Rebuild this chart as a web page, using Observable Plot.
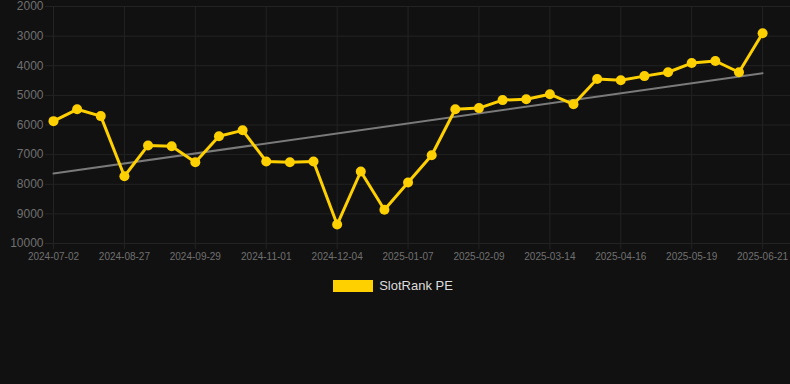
<!DOCTYPE html>
<html><head><meta charset="utf-8">
<script src="https://cdn.jsdelivr.net/npm/d3@7"></script>
<script src="https://cdn.jsdelivr.net/npm/@observablehq/plot@0.6"></script>
<style>
html,body{margin:0;padding:0;background:#111;width:790px;height:384px;overflow:hidden;font-family:"Liberation Sans",Arial,sans-serif;}
#chart svg{display:block;}
#legend{display:flex;justify-content:center;align-items:center;margin-top:10px;gap:6px;color:#ddd;font-size:13px;padding-right:4px;}
.sw{width:40px;height:12px;background:#ffd000;display:inline-block;}
</style></head><body><div id="chart"></div><div id="legend"><span class="sw"></span><span id="lname"></span></div>
<script>
const seriesName = "SlotRank PE";
const dates = ["2024-07-02","2024-08-05","2024-08-16","2024-08-27","2024-09-07","2024-09-18","2024-09-29","2024-10-10","2024-10-21","2024-11-01","2024-11-12","2024-11-23","2024-12-04","2024-12-15","2024-12-26","2025-01-07","2025-01-18","2025-01-29","2025-02-09","2025-02-20","2025-03-03","2025-03-14","2025-03-25","2025-04-05","2025-04-16","2025-04-27","2025-05-08","2025-05-19","2025-05-30","2025-06-10","2025-06-21"];
const values = [5870,5470,5700,7730,6690,6720,7260,6380,6180,7230,7260,7230,9360,7570,8860,7940,7020,5470,5430,5160,5130,4960,5300,4450,4490,4350,4220,3910,3840,4220,2900];
const yTicks = [2000,3000,4000,5000,6000,7000,8000,9000,10000];
const labelIdx = [0,3,6,9,12,15,18,21,24,27,30];

document.getElementById("lname").textContent = seriesName;
const data = values.map((v,i)=>({i, date: dates[i], value: v}));
const grid = "#232323";
const chart = Plot.plot({
  width: 790, height: 268,
  marginLeft: 53, marginRight: 0, marginTop: 6, marginBottom: 25,
  style: {background: "#111", color: "#707070", fontFamily: "'Liberation Sans', Arial, sans-serif"},
  x: {domain: [0, 31.18], axis: null, label: null},
  y: {domain: [2000, 10000], reverse: true, axis: null, label: null},
  marks: [
    Plot.gridX(labelIdx, {stroke: grid, strokeOpacity: 1}),
    Plot.gridY(yTicks, {stroke: grid, strokeOpacity: 1}),
    Plot.axisY(yTicks, {label: null, tickSize: 8, tickPadding: 2, stroke: grid, fill: "#707070", fontSize: 12, tickFormat: d => String(d)}),
    Plot.axisX(labelIdx, {label: null, tickSize: 6, tickPadding: 3, stroke: grid, fill: "#707070", fontSize: 10, tickFormat: i => dates[i]}),
    Plot.linearRegressionY(data, {x: "i", y: "value", ci: 0, stroke: "#7a7a7a", strokeWidth: 2}),
    Plot.line(data, {x: "i", y: "value", stroke: "#ffd000", strokeWidth: 3}),
    Plot.dot(data, {x: "i", y: "value", r: 5, fill: "#ffd000", stroke: "none"})
  ]
});
document.getElementById("chart").appendChild(chart);
</script></body></html>
